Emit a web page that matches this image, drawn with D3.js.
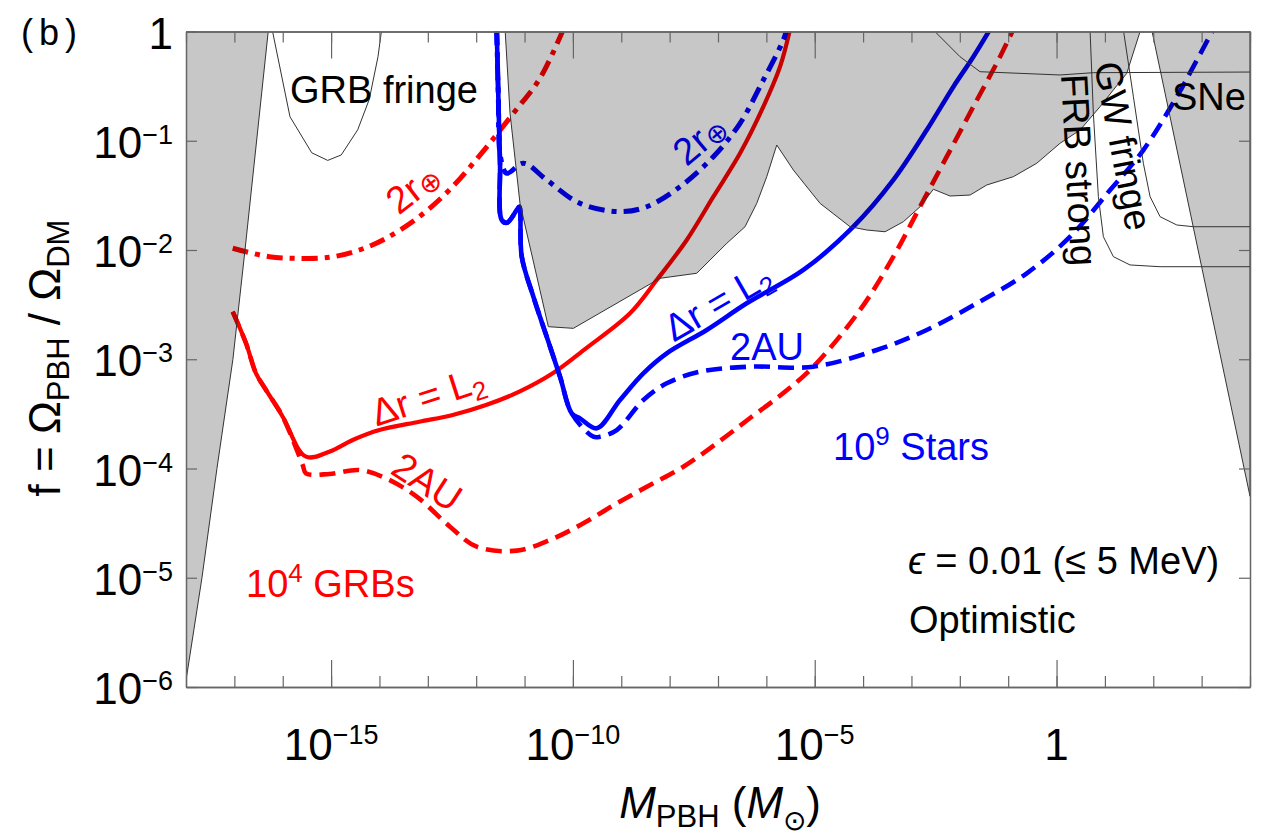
<!DOCTYPE html>
<html>
<head>
<meta charset="utf-8">
<script src="https://cdn.jsdelivr.net/npm/d3@7"></script>
<style>
  body { margin: 0; background: #fff; }
  svg { display: block; font-family: "Liberation Sans", Arial, Helvetica, sans-serif; }
</style>
</head>
<body>
<svg id="chart" width="1264" height="838"></svg>
<script>
// Axis setup (log10 exponents)
const xDomain = [1e-18, 1e4];
const yDomain = [1e-6, 1];
const xMajorExps = [-15, -10, -5, 0];
const xMinorExps = d3.range(-18, 5);
const yTickExps = [-6, -5, -4, -3, -2, -1, 0];

// All curves are [log10 M, log10 f]
// 10^4 GRBs
const grb2rE = [[-17.034,-1.984],[-16.759,-2.016],[-16.278,-2.061],[-15.725,-2.076],[-15.037,-2.067],[-14.416,-2.0],
  [-13.864,-1.893],[-13.176,-1.695],[-12.555,-1.451],[-11.921,-1.131],[-11.232,-0.749],[-10.68,-0.428],[-10.198,0.02]];
const grbL2 = [[-17.034,-2.565],[-16.759,-2.854],[-16.553,-3.129],[-16.346,-3.281],[-16.0,-3.526],[-15.519,-3.892],
  [-15.037,-3.846],[-14.553,-3.739],[-14.003,-3.648],[-13.176,-3.572],[-12.485,-3.510],[-11.797,-3.419],[-11.108,-3.297],
  [-10.417,-3.129],[-9.729,-2.900],[-8.819,-2.579],[-8.267,-2.275],[-7.646,-1.908],[-7.096,-1.512],[-6.544,-1.115],
  [-6.062,-0.688],[-5.717,-0.322],[-5.51,0.02]];
const grb2AU = [[-17.034,-2.565],[-16.759,-2.854],[-16.553,-3.129],[-16.346,-3.281],[-16.0,-3.526],[-15.587,-3.968],
  [-15.519,-4.044],[-15.037,-4.050],[-14.416,-4.014],[-13.864,-4.090],[-13.230,-4.258],[-12.541,-4.533],[-11.989,-4.716],
  [-11.162,-4.752],[-10.473,-4.654],[-9.784,-4.502],[-9.094,-4.319],[-8.405,-4.151],[-7.717,-3.984],[-7.026,-3.769],
  [-6.337,-3.538],[-5.649,-3.309],[-5.029,-3.068],[-4.063,-2.549],[-3.374,-2.061],[-2.822,-1.604],[-2.27,-1.146],
  [-1.72,-0.688],[-1.168,-0.231],[-0.893,0.02]];

// 10^9 Stars
const starsL2 = [[-11.575,0.02],[-11.542,-0.597],[-11.507,-1.206],[-11.472,-1.725],[-11.362,-1.750],[-11.162,-1.634],
  [-11.108,-1.604],[-11.058,-2.061],[-10.818,-2.427],[-10.541,-2.794],[-10.266,-3.160],[-10.024,-3.495],[-9.853,-3.541],
  [-9.507,-3.632],[-9.026,-3.373],[-8.544,-3.129],[-8.06,-2.946],[-7.233,-2.732],[-6.406,-2.488],[-5.235,-2.183],
  [-4.201,-1.787],[-3.374,-1.359],[-2.684,-0.902],[-2.133,-0.505],[-1.72,-0.231],[-1.375,0.02]];
const stars2AU = [[-11.575,0.02],[-11.542,-0.597],[-11.507,-1.206],[-11.472,-1.725],[-11.362,-1.750],[-11.162,-1.634],
  [-11.108,-1.604],[-11.058,-2.061],[-10.818,-2.427],[-10.541,-2.794],[-10.266,-3.160],[-10.024,-3.495],[-9.578,-3.709],
  [-9.439,-3.709],[-9.094,-3.648],[-8.544,-3.373],[-8.06,-3.220],[-7.371,-3.114],[-6.337,-3.068],[-5.029,-3.068],
  [-3.718,-2.915],[-2.684,-2.732],[-1.65,-2.488],[-0.616,-2.213],[0.28,-1.878],[1.107,-1.451],[1.795,-1.085],
  [2.486,-0.597],[2.829,-0.322],[3.243,0.02]];
const stars2rE = [[-11.575,0.02],[-11.542,-0.597],[-11.497,-1.149],[-11.368,-1.298],[-11.025,-1.206],[-10.541,-1.359],
  [-9.853,-1.573],[-9.026,-1.649],[-8.474,-1.604],[-7.785,-1.421],[-7.096,-1.146],[-6.544,-0.840],[-6.062,-0.444],
  [-5.649,-0.078],[-5.578,0.02]];

// Existing constraints (shaded)
const evapRegion = [[-18,0.1],[-16.27,0.1],[-16.30,0],[-16.78,-2],[-17.03,-3],[-17.36,-4],[-17.67,-5],[-18,-5.94]];
const midRegion = [[-11.41,0.1],[-11.40,0.0],[-11.30,-0.749],[-11.094,-1.573],[-10.508,-2.702],[-9.991,-2.717],
  [-8.199,-2.259],[-7.44,-2.213],[-6.819,-1.939],[-6.441,-1.787],[-6.199,-1.573],[-5.992,-1.329],[-5.785,-1.039],
  [-5.442,-1.268],[-4.89,-1.573],[-4.27,-1.787],[-3.924,-1.817],[-3.546,-1.833],[-3.167,-1.741],[-2.822,-1.604],
  [-2.547,-1.444],[-2.202,-1.506],[-1.788,-1.497],[-1.443,-1.405],[-0.893,-1.329],[-0.409,-1.206],[0.073,-1.023],
  [0.486,-0.902],[0.9,-0.688],[1.175,-0.535],[1.452,-0.383],[1.727,0.0],[1.76,0.1]];
const sneRegion = [[1.942,0.07],[4.0,0.07],[4.0,-4.254]];

// Outlines only
const grbFringe = [[-16.23,0.1],[-16.21,0],[-15.85,-0.78],[-15.40,-1.11],[-15.07,-1.18],[-14.79,-1.13],[-14.45,-0.90],
  [-14.21,-0.62],[-14.03,-0.23],[-13.96,0],[-13.95,0.1]];
const lensLine = [[-2.6,0.05],[-2.547,0.014],[-1.995,-0.231],[-1.582,-0.368],[0.073,-0.398],[0.761,-0.377],[4.0,-0.371]];
const frbStrong = [[0.69,0.05],[0.693,0.014],[0.761,-0.749],[0.865,-1.512],[0.968,-1.878],[1.175,-2.061],[1.52,-2.137],
  [2.141,-2.153],[4.0,-2.153]];
const gwFringe = [[1.38,0.05],[1.382,0.014],[1.589,-0.597],[1.795,-1.206],[1.934,-1.512],[2.141,-1.695],[2.486,-1.771],
  [2.829,-1.787],[4.0,-1.787]];

const RED = "#ff0000";
const BLUE = "#0000ff";

// Scales
const pLeft = 186, pRight = 1250, pTop = 31.5, pBottom = 687;
const x = d3.scaleLog().domain(xDomain).range([pLeft, pRight]);
const y = d3.scaleLog().domain(yDomain).range([pBottom, pTop]);

const svg = d3.select("#chart");

svg.append("defs").append("clipPath").attr("id", "plot")
  .append("rect").attr("x", pLeft).attr("y", pTop).attr("width", pRight - pLeft).attr("height", pBottom - pTop);

const smooth = d3.line()
  .x(d => x(Math.pow(10, d[0])))
  .y(d => y(Math.pow(10, d[1])))
  .curve(d3.curveCatmullRom.alpha(0.5));
const straight = d3.line()
  .x(d => x(Math.pow(10, d[0])))
  .y(d => y(Math.pow(10, d[1])));
const closed = d3.line()
  .x(d => x(Math.pow(10, d[0])))
  .y(d => y(Math.pow(10, d[1])))
  .curve(d3.curveLinearClosed);

const plot = svg.append("g").attr("clip-path", "url(#plot)");

// Curves
const curves = [
  { data: grb2rE, color: RED, dash: "16,7,5,7", width: 5 },
  { data: grbL2, color: RED, dash: null, width: 4.2 },
  { data: grb2AU, color: RED, dash: "16,8", width: 4.6 },
  { data: stars2rE, color: BLUE, dash: "16,7,5,7", width: 5 },
  { data: stars2AU, color: BLUE, dash: "16,8", width: 4.6 },
  { data: starsL2, color: BLUE, dash: null, width: 4.6 }
];
plot.selectAll("path.curve")
  .data(curves)
  .enter()
  .append("path")
  .attr("class", "curve")
  .attr("d", d => smooth(d.data))
  .attr("fill", "none")
  .attr("stroke", d => d.color)
  .attr("stroke-width", d => d.width)
  .attr("stroke-dasharray", d => d.dash)
  .attr("stroke-linejoin", "round");

// Text helper: parts = [text, fontSize, dy, fontStyle]
function addLabel(parts, o) {
  const t = svg.append("text")
    .attr("fill", o.color || "#000")
    .attr("font-size", o.size || 38)
    .attr("text-anchor", o.anchor || "start");
  if (o.rot !== undefined) {
    t.attr("transform", `translate(${o.x},${o.y}) rotate(${o.rot})`).attr("y", o.dy || 0);
  } else {
    t.attr("x", o.x).attr("y", o.y);
  }
  parts.forEach(p => {
    const s = t.append("tspan").text(p[0]);
    if (p[1]) s.attr("font-size", p[1]);
    if (p[2]) s.attr("dy", p[2]);
    if (p[3]) s.attr("font-style", p[3]);
  });
  return t;
}

// Coloured curve labels (drawn before the shading, like the original)
addLabel([["2r"], ["⊕", 27, 3]], { x: 413, y: 188, rot: -38, anchor: "middle", dy: 13, color: RED });
addLabel([["2r"], ["⊕", 27, 3]], { x: 700, y: 139, rot: -40, anchor: "middle", dy: 13, color: BLUE });
addLabel([["Δr = L"], ["2", 26, 7]], { x: 428, y: 396, rot: -18, anchor: "middle", dy: 13, color: RED });
addLabel([["2AU"]], { x: 427, y: 482, rot: 33, anchor: "middle", dy: 13, color: RED });
addLabel([["Δr = L"], ["2", 26, 7]], { x: 718, y: 302, rot: -30, anchor: "middle", dy: 13, color: BLUE });
addLabel([["2AU"]], { x: 730, y: 360, color: BLUE });
addLabel([["10"], ["4", 26, -15], [" GRBs", 38, 15]], { x: 246, y: 597, color: RED });
addLabel([["10"], ["9", 26, -15], [" Stars", 38, 15]], { x: 833, y: 460, color: BLUE });

// Shaded constraint regions (semi-transparent, on top)
const shade = svg.append("g").attr("clip-path", "url(#plot)");
shade.selectAll("path.region")
  .data([evapRegion, midRegion, sneRegion])
  .enter()
  .append("path")
  .attr("class", "region")
  .attr("d", closed)
  .attr("fill", "#000")
  .attr("fill-opacity", 0.22)
  .attr("stroke", "#333")
  .attr("stroke-width", 1);

shade.selectAll("path.outline")
  .data([grbFringe, lensLine, frbStrong, gwFringe])
  .enter()
  .append("path")
  .attr("class", "outline")
  .attr("d", straight)
  .attr("fill", "none")
  .attr("stroke", "#333")
  .attr("stroke-width", 1);

// Black annotations
addLabel([["GRB fringe"]], { x: 290, y: 103 });
addLabel([["SNe"]], { x: 1172, y: 110 });
addLabel([["GW fringe"]], { x: 1123, y: 146, rot: 79, anchor: "middle", dy: 13 });
addLabel([["FRB strong"]], { x: 1079, y: 170, rot: 87, anchor: "middle", dy: 13 });
addLabel([["ϵ", null, null, "italic"], [" = 0.01 (≤ 5 MeV)"]], { x: 908, y: 574 });
addLabel([["Optimistic"]], { x: 909, y: 633 });
addLabel([["(b)"]], { x: 21, y: 45, size: 36 }).attr("letter-spacing", 6);

// Axes: decade ticks everywhere, longer ticks every 5 decades on x
const frame = svg.append("g").attr("class", "frame");
const minorX = xMinorExps.map(e => Math.pow(10, e));
const majorX = xMajorExps.map(e => Math.pow(10, e));
const yTicks = yTickExps.map(e => Math.pow(10, e));

frame.append("g").attr("transform", `translate(0,${pBottom})`)
  .call(d3.axisBottom(x).tickValues(minorX).tickSize(-11).tickSizeOuter(0).tickFormat(""));
frame.append("g").attr("transform", `translate(0,${pBottom})`)
  .call(d3.axisBottom(x).tickValues(majorX).tickSize(-27).tickSizeOuter(0).tickFormat(""));
frame.append("g").attr("transform", `translate(0,${pTop})`)
  .call(d3.axisTop(x).tickValues(minorX).tickSize(-11).tickSizeOuter(0).tickFormat(""));
frame.append("g").attr("transform", `translate(0,${pTop})`)
  .call(d3.axisTop(x).tickValues(majorX).tickSize(-27).tickSizeOuter(0).tickFormat(""));
frame.append("g").attr("transform", `translate(${pLeft},0)`)
  .call(d3.axisLeft(y).tickValues(yTicks).tickSize(-11).tickSizeOuter(0).tickFormat(""));
frame.append("g").attr("transform", `translate(${pRight},0)`)
  .call(d3.axisRight(y).tickValues(yTicks).tickSize(-11).tickSizeOuter(0).tickFormat(""));

frame.selectAll(".domain").attr("stroke", "#666").attr("stroke-width", 1.5);
frame.selectAll(".tick line").attr("stroke", "#666").attr("stroke-width", 1.2);

// Tick labels
xMajorExps.forEach(e => {
  const t = svg.append("text")
    .attr("x", x(Math.pow(10, e)))
    .attr("y", 760)
    .attr("text-anchor", "middle")
    .attr("font-size", 44);
  if (e === 0) {
    t.text("1");
  } else {
    t.append("tspan").text("10");
    t.append("tspan").attr("font-size", 27).attr("dy", -16).text("−" + Math.abs(e));
  }
});
yTickExps.forEach(e => {
  const t = svg.append("text")
    .attr("x", 173)
    .attr("y", y(Math.pow(10, e)) + 17)
    .attr("text-anchor", "end")
    .attr("font-size", 44);
  if (e === 0) {
    t.text("1");
  } else {
    t.append("tspan").text("10");
    t.append("tspan").attr("font-size", 27).attr("dy", -14).text("−" + Math.abs(e));
  }
});

// Axis titles
const xt = svg.append("text").attr("x", 720).attr("y", 818).attr("text-anchor", "middle").attr("font-size", 44);
xt.append("tspan").attr("font-style", "italic").text("M");
xt.append("tspan").attr("font-size", 31).attr("dy", 9).text("PBH");
xt.append("tspan").attr("dy", -9).text(" (");
xt.append("tspan").attr("font-style", "italic").text("M");
xt.append("tspan").attr("font-size", 28).attr("dy", 12).text("⊙");
xt.append("tspan").attr("dy", -12).text(")");

const yt = svg.append("text").attr("transform", "translate(60,358) rotate(-90)")
  .attr("text-anchor", "middle").attr("font-size", 44);
yt.append("tspan").text("f = Ω");
yt.append("tspan").attr("font-size", 31).attr("dy", 9).text("PBH");
yt.append("tspan").attr("dy", -9).text(" / Ω");
yt.append("tspan").attr("font-size", 31).attr("dy", 9).text("DM");
</script>
</body>
</html>
